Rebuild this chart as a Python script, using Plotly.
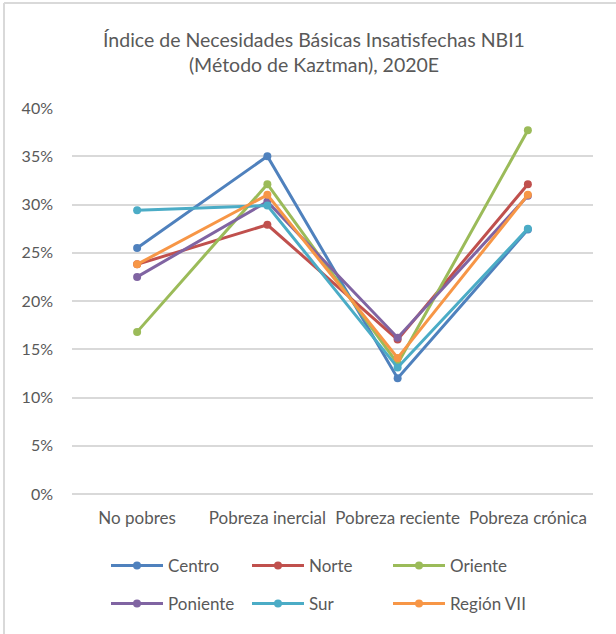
import plotly.graph_objects as go

categories = ["No pobres", "Pobreza inercial", "Pobreza reciente", "Pobreza crónica"]
series_names = ["Centro", "Norte", "Oriente", "Poniente", "Sur", "Región VII"]
centro = [0.255, 0.350, 0.120, 0.274]
norte = [0.238, 0.279, 0.160, 0.321]
oriente = [0.168, 0.321, 0.135, 0.377]
poniente = [0.225, 0.303, 0.162, 0.309]
sur = [0.294, 0.299, 0.131, 0.275]
region7 = [0.238, 0.310, 0.141, 0.310]
series_values = [centro, norte, oriente, poniente, sur, region7]
colors = ["#4F81BD", "#C0504D", "#9BBB59", "#8064A2", "#4BACC6", "#F79646"]
y_ticks = [0, 0.05, 0.10, 0.15, 0.20, 0.25, 0.30, 0.35, 0.40]

FONT = "Lato"
GRAY = "#595959"

W, H = 616, 634
L, R, T, B = 72, 23, 108, 140
pw, ph = W - L - R, H - T - B

def px_x(px):
    return (px - L) / pw

def px_y(py):
    return (H - B - py) / ph

fig = go.Figure()
for i, (name, vals, col) in enumerate(zip(series_names, series_values, colors)):
    fig.add_trace(go.Scatter(
        x=categories, y=vals, name=name, mode="lines+markers",
        line=dict(color=col, width=3),
        marker=dict(color=col, size=8),
        legend="legend" if i < 3 else "legend2",
    ))

legend_common = dict(
    orientation="h", xanchor="left", yanchor="middle",
    font=dict(family=FONT, size=17, color=GRAY),
    itemwidth=52,
    entrywidth=74, entrywidthmode="pixels",
    bgcolor="rgba(0,0,0,0)", borderwidth=0,
)

fig.update_layout(
    width=W, height=H,
    margin=dict(l=L, r=R, t=T, b=B),
    paper_bgcolor="white", plot_bgcolor="white",
    title=dict(
        text="Índice de Necesidades Básicas Insatisfechas NBI1<br>(Método de Kaztman), 2020E",
        x=314 / W, xanchor="center",
        y=1 - 46.5 / H, yanchor="middle", yref="container",
        font=dict(family=FONT, size=19.5, color=GRAY),
    ),
    xaxis=dict(
        type="category", range=[-0.5, 3.5],
        showgrid=False, zeroline=False, showline=False, ticks="",
        tickfont=dict(family=FONT, size=17, color=GRAY),
        ticklabelstandoff=12,
    ),
    yaxis=dict(
        range=[0, 0.40], tickvals=y_ticks, tickformat=".0%",
        showgrid=True, gridcolor="#D9D9D9", gridwidth=1.5,
        zeroline=True, zerolinecolor="#D9D9D9", zerolinewidth=1.5,
        showline=False, ticks="",
        tickfont=dict(family=FONT, size=16, color=GRAY),
        ticklabelstandoff=18,
    ),
    legend=dict(x=px_x(106), y=px_y(566), **legend_common),
    legend2=dict(x=px_x(106), y=px_y(604), **legend_common),
    shapes=[
        dict(type="line", xref="paper", yref="paper",
             x0=px_x(4), x1=px_x(616), y0=px_y(3), y1=px_y(3),
             line=dict(color="#D9D9D9", width=2)),
        dict(type="line", xref="paper", yref="paper",
             x0=px_x(4), x1=px_x(4), y0=px_y(3), y1=px_y(640),
             line=dict(color="#D9D9D9", width=2)),
    ],
)

fig.write_html(
    "out.html",
    config={"displayModeBar": False},
    post_script="document.body.style.margin='0';document.body.style.padding='0';",
)
